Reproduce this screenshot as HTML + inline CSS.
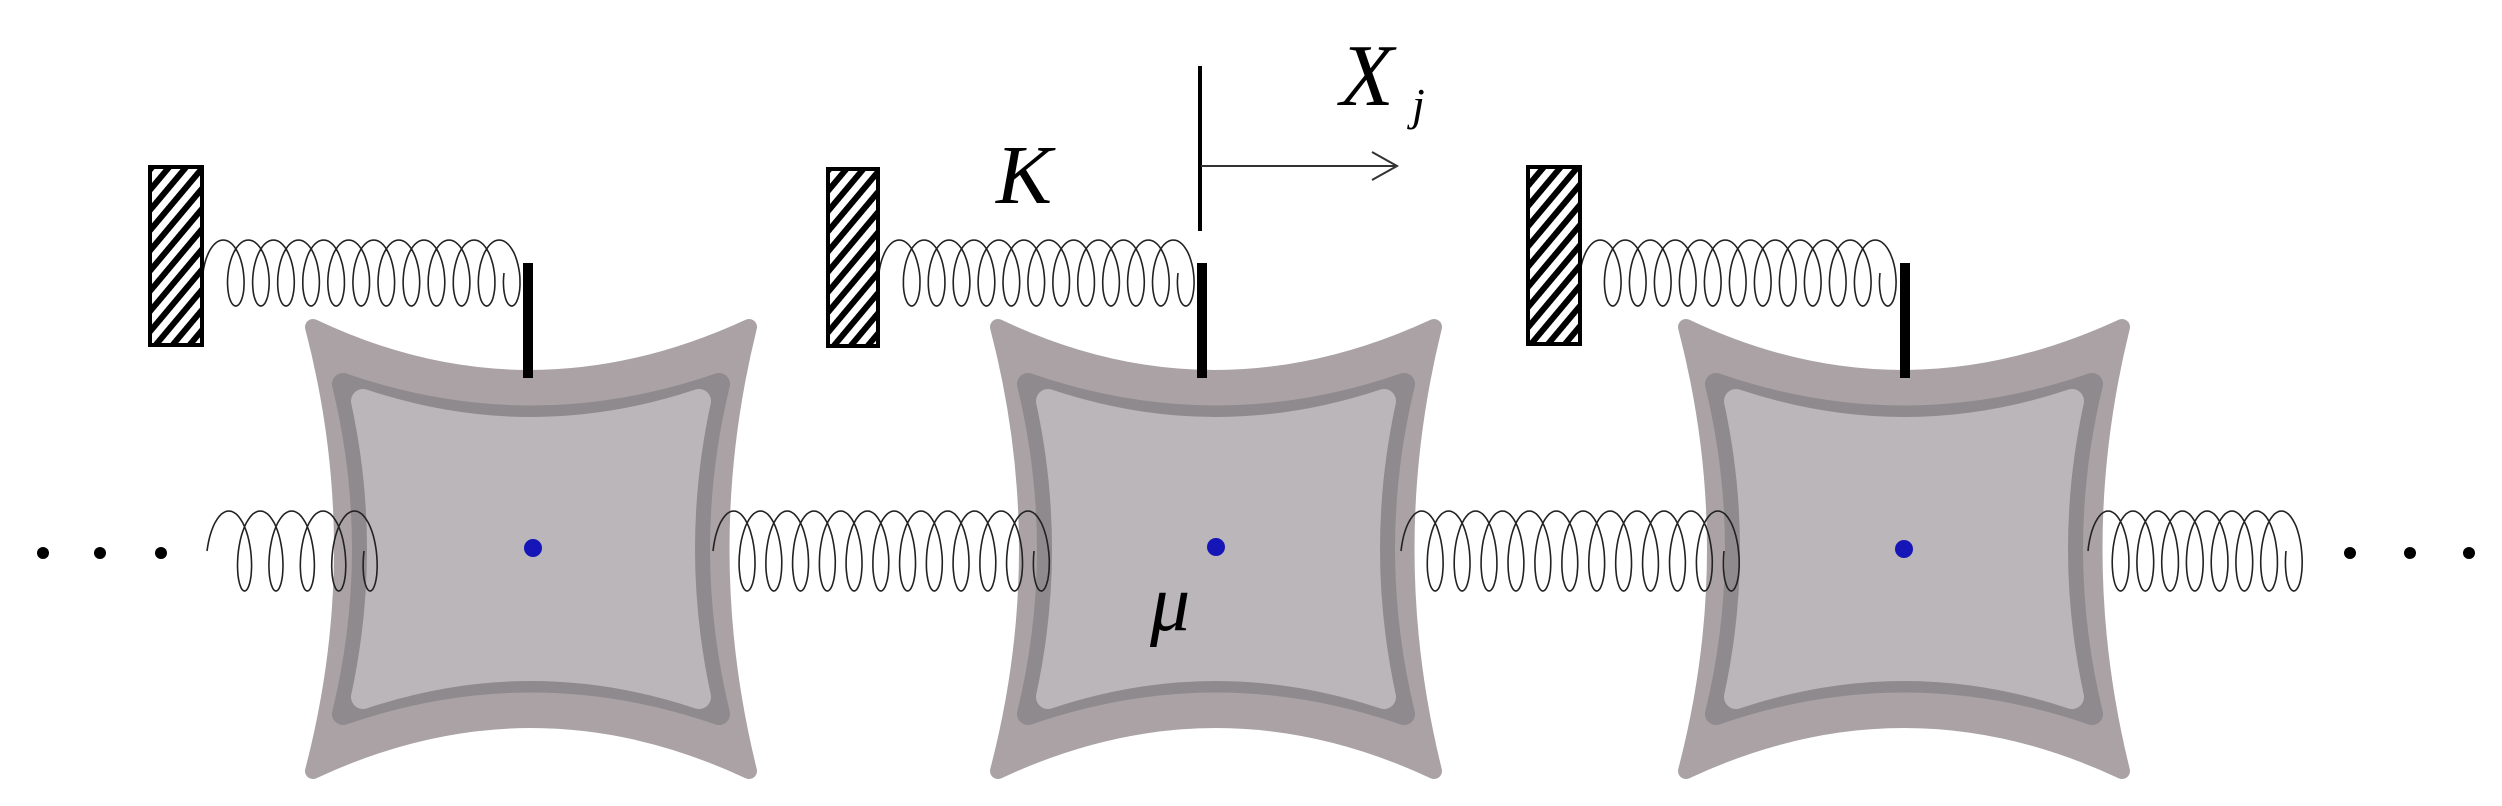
<!DOCTYPE html>
<html><head><meta charset="utf-8"><style>
html,body{margin:0;padding:0;background:#fff;}
svg{display:block;}
</style></head><body>
<svg id="s" width="2502" height="806" viewBox="0 0 2502 806" xmlns="http://www.w3.org/2000/svg">
<defs>
<pattern id="hatch" patternUnits="userSpaceOnUse" width="13" height="13" patternTransform="rotate(40)">
<rect width="13" height="13" fill="#fff"/>
<rect x="0" y="0" width="6" height="13" fill="#000"/>
</pattern>
<g id="blk">
<path d="M-218,-222 Q-3,-120 218,-222 Q163,0 218,222 Q0,120 -218,222 Q-160,0 -218,-222 Z" fill="#aaa2a5" stroke="#aaa2a5" stroke-width="16" stroke-linejoin="round"/>
<path d="M-188,-165 Q0,-100 188,-165 Q148,0 188,165 Q0,100 -188,165 Q-148,0 -188,-165 Z" fill="#8f8a8d" stroke="#8f8a8d" stroke-width="22" stroke-linejoin="round"/>
<path d="M-168,-148 Q0,-92 168,-148 Q136,0 168,148 Q0,92 -168,148 Q-136,0 -168,-148 Z" fill="#bab6ba" stroke="#bab6ba" stroke-width="24" stroke-linejoin="round"/>
</g>
</defs>
<g id="blocks">
<use href="#blk" x="531" y="549"/>
<use href="#blk" x="1216" y="549"/>
<use href="#blk" x="1904" y="549"/>
</g>
<g id="springs" fill="none" stroke="#222" stroke-width="1.6"></g>
<rect x="150" y="167" width="52" height="178" fill="url(#hatch)" stroke="#000" stroke-width="4"/>
<rect x="828" y="169" width="50" height="177" fill="url(#hatch)" stroke="#000" stroke-width="4"/>
<rect x="1528" y="167" width="52" height="177" fill="url(#hatch)" stroke="#000" stroke-width="4"/>
<rect x="523" y="263" width="10" height="115" fill="#000"/>
<rect x="1197" y="263" width="10" height="115" fill="#000"/>
<rect x="1900" y="263" width="10" height="115" fill="#000"/>
<circle cx="533" cy="548" r="9" fill="#1515b8"/>
<circle cx="1216" cy="547" r="9" fill="#1515b8"/>
<circle cx="1904" cy="549" r="9" fill="#1515b8"/>
<circle cx="43" cy="553" r="6" fill="#000"/><circle cx="100" cy="553" r="6" fill="#000"/><circle cx="161" cy="553" r="6" fill="#000"/>
<circle cx="2350" cy="553" r="6" fill="#000"/><circle cx="2410" cy="553" r="6" fill="#000"/><circle cx="2469" cy="553" r="6" fill="#000"/>
<line x1="1200" y1="66" x2="1200" y2="231" stroke="#000" stroke-width="4"/>
<line x1="1201" y1="166" x2="1396" y2="166" stroke="#333" stroke-width="2"/>
<path d="M1372,152 L1397,166 L1372,180" fill="none" stroke="#333" stroke-width="2"/>
<text x="1340" y="105" font-family="Liberation Serif, serif" font-style="italic" font-size="88">X</text>
<text x="1412" y="120" font-family="Liberation Serif, serif" font-style="italic" font-size="46">j</text>
<text x="996" y="203" font-family="Liberation Serif, serif" font-style="italic" font-size="84">K</text>
<text x="1150" y="630" font-family="Liberation Serif, serif" font-style="italic" font-size="80">μ</text>
</svg>
<script>
(function(){
var g=document.getElementById('springs');
function spring(x0,x1,yc,ry,rx,n){
  var pitch=(x1-x0-2*rx)/n, d='';
  var steps=n*48;
  for(var i=0;i<=steps;i++){
    var u=i/48, t=u*2*Math.PI;
    var x=x0+rx+pitch*u-rx*Math.cos(t);
    var y=yc-ry*Math.sin(t);
    d+=(i?'L':'M')+x.toFixed(1)+','+y.toFixed(1);
  }
  var p=document.createElementNS('http://www.w3.org/2000/svg','path');
  p.setAttribute('d',d);g.appendChild(p);
}
spring(203,532,273,33,14,12);
spring(879,1206,273,33,14,12);
spring(1580,1908,273,33,14,12);
spring(207,392,551,40,14,5);
spring(713,1062,551,40,14,12);
spring(1401,1752,551,40,14,12);
spring(2088,2314,551,40,14,8);
})();
</script>
</body></html>
